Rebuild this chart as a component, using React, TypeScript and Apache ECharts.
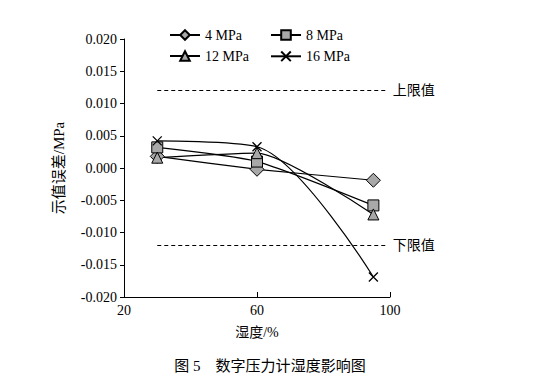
import React, { useEffect, useRef } from "react";
import * as echarts from "echarts";

const humidity = [30, 60, 95];
const s4 = [0.0018, -0.0002, -0.0019];
const s8 = [0.0032, 0.001, -0.0058];
const s12 = [0.0016, 0.0023, -0.0072];
const s16 = [0.0042, 0.0033, -0.0169];
const seriesNames = ["4 MPa", "8 MPa", "12 MPa", "16 MPa"];
const upperLimit = 0.012;
const lowerLimit = -0.012;
const limitRange = [30, 99];

const FONT = "'Liberation Serif', 'Noto Sans CJK SC', serif";
const CROSS = "path://M0,0L10,10M10,0L0,10";

export default function App() {
  const ref = useRef<HTMLDivElement>(null);
  useEffect(() => {
    if (!ref.current) return;
    const chart = echarts.init(ref.current, null, { renderer: "svg" });
    const toPts = (arr: number[]) => humidity.map((h, i) => [h, arr[i]]);
    const base = (name: string, data: number[], symbol: string, size: number, smooth: number) => ({
      name,
      type: "line",
      data: toPts(data),
      smooth,
      symbol,
      symbolSize: size,
      lineStyle: { color: "#000", width: 1.2 },
      itemStyle: { color: "#a8a8a8", borderColor: "#000", borderWidth: 1 },
      z: 3,
    });
    const limitLine = (val: number, label: string) => ({
      silent: true,
      symbol: "none",
      lineStyle: { color: "#000", type: [4, 3], width: 1 },
      label: {
        show: true,
        position: "end",
        formatter: label,
        color: "#000",
        fontSize: 14,
        fontFamily: FONT,
        distance: 6,
      },
      data: [[{ coord: [limitRange[0], val] }, { coord: [limitRange[1], val] }]],
    });
    const s16Series: any = base(seriesNames[3], s16, CROSS, 9, 0.3);
    s16Series.itemStyle = { color: "none", borderColor: "#000", borderWidth: 1.3 };
    const s4Series: any = base(seriesNames[0], s4, "diamond", 14, 0.15);
    s4Series.markLine = limitLine(upperLimit, "上限值");
    const s8Series: any = base(seriesNames[1], s8, "rect", 11, 0.2);
    s8Series.markLine = limitLine(lowerLimit, "下限值");
    const legendCommon = {
      itemWidth: 30,
      itemHeight: 12,
      textStyle: { color: "#000", fontSize: 14, fontFamily: FONT },
      itemGap: 4,
    };
    chart.setOption({
      animation: false,
      textStyle: { fontFamily: FONT },
      legend: [
        { ...legendCommon, data: [seriesNames[0]], left: 164, top: 23 },
        { ...legendCommon, data: [seriesNames[1]], left: 265, top: 23 },
        { ...legendCommon, data: [seriesNames[2]], left: 164, top: 44 },
        { ...legendCommon, data: [seriesNames[3]], left: 265, top: 44 },
      ],
      grid: { left: 124, right: 150, top: 39, bottom: 91 },
      xAxis: {
        type: "value",
        min: 20,
        max: 100,
        interval: 40,
        name: "湿度/%",
        nameLocation: "middle",
        nameGap: 28,
        nameTextStyle: { color: "#000", fontSize: 14, fontFamily: FONT },
        axisLine: { onZero: false, lineStyle: { color: "#000", width: 1 } },
        axisTick: { inside: true, length: 5, lineStyle: { color: "#000" } },
        axisLabel: { color: "#000", fontSize: 14, fontFamily: FONT, margin: 6 },
        splitLine: { show: false },
      },
      yAxis: {
        type: "value",
        min: -0.02,
        max: 0.02,
        interval: 0.005,
        name: "示值误差/MPa",
        nameLocation: "middle",
        nameGap: 58,
        nameTextStyle: { color: "#000", fontSize: 15, fontFamily: FONT },
        axisLine: { show: true, onZero: false, lineStyle: { color: "#000", width: 1 } },
        axisTick: { show: true, inside: false, length: 4, lineStyle: { color: "#000" } },
        axisLabel: {
          color: "#000",
          fontSize: 14,
          fontFamily: FONT,
          margin: 7,
          formatter: (v: number) => v.toFixed(3),
        },
        splitLine: { show: false },
      },
      graphic: [
        {
          type: "text",
          left: "center",
          top: 358,
          style: {
            text: "图 5    数字压力计湿度影响图",
            fontSize: 15,
            fontFamily: FONT,
            fill: "#000",
          },
        },
      ],
      series: [s4Series, s8Series, base(seriesNames[2], s12, "triangle", 11, 0.2), s16Series],
    });
    return () => chart.dispose();
  }, []);
  return (
    <div
      ref={ref}
      style={{ position: "absolute", left: 0, top: 0, width: 540, height: 388 }}
    />
  );
}
